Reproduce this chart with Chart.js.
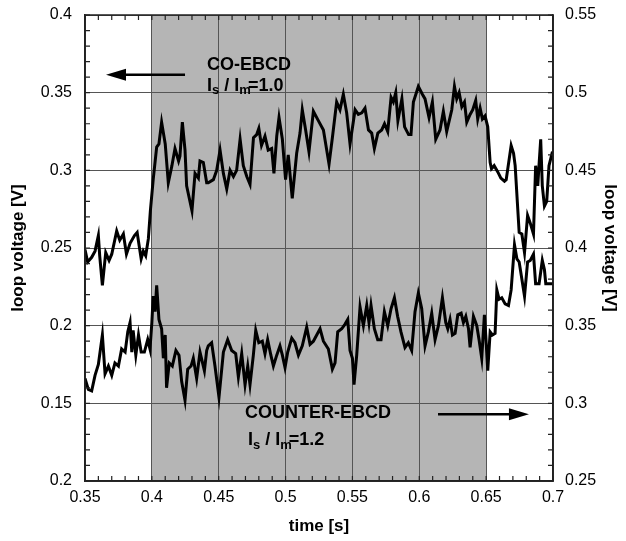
<!DOCTYPE html>
<html>
<head>
<meta charset="utf-8">
<script src="https://cdn.jsdelivr.net/npm/chart.js@4/dist/chart.umd.min.js"></script>
<style>
  html, body { margin: 0; padding: 0; background: #fff; }
  canvas { display: block; }
</style>
</head>
<body>
<canvas id="grafico" width="626" height="541"></canvas>
<script>
// eixo x (tempo) e rótulos
const xTicks = [0.35, 0.4, 0.45, 0.5, 0.55, 0.6, 0.65, 0.7];
const xTickLabels = ['0.35', '0.4', '0.45', '0.5', '0.55', '0.6', '0.65', '0.7'];
// eixo esquerdo (o último rótulo aparece como "0.2" na figura original)
const leftTicks = [0.1, 0.15, 0.2, 0.25, 0.3, 0.35, 0.4];
const leftTickLabels = ['0.2', '0.15', '0.2', '0.25', '0.3', '0.35', '0.4'];
// eixo direito
const rightTicks = [0.25, 0.3, 0.35, 0.4, 0.45, 0.5, 0.55];
const rightTickLabels = ['0.25', '0.3', '0.35', '0.4', '0.45', '0.5', '0.55'];

// faixa cinza (EBCD ligado)
const shadeStart = 0.4;
const shadeEnd = 0.65;

// CO-EBCD, eixo esquerdo
const coTime = [0.350,0.352,0.355,0.3575,0.360,0.361,0.363,0.3655,0.368,0.370,0.3737,0.376,0.3787,0.381,0.3837,0.387,0.389,0.392,0.3936,0.3954,0.3974,0.3989,0.401,0.4036,0.4053,0.4073,0.410,0.4123,0.415,0.4173,0.420,0.421,0.4228,0.4248,0.426,0.430,0.4323,0.4348,0.436,0.4385,0.441,
  0.4422,0.446,0.4485,0.451,0.4535,0.456,0.4585,0.461,0.4634,0.466,0.4684,0.471,0.4734,0.476,0.4784,0.480,0.482,0.4846,0.487,0.4896,0.4913,0.4934,0.4951,0.4976,0.500,0.502,0.505,0.5083,0.5108,0.5125,0.515,0.5175,0.5208,0.5245,0.5283,
  0.5325,0.535,0.5382,0.5407,0.5432,0.5457,0.5482,0.552,0.5544,0.557,0.5594,0.562,0.5644,0.5664,0.569,0.5719,0.574,0.5764,0.5789,0.5806,0.5824,0.584,0.587,0.589,0.592,0.5938,0.5956,0.5993,0.6023,0.6043,0.6073,0.6098,0.6123,0.6155,0.618,0.6205,
  0.6243,0.6263,0.628,0.6298,0.6318,0.6338,0.6355,0.638,0.640,0.6422,0.6437,0.6455,0.6472,0.6492,0.6512,0.653,0.654,0.656,0.6587,0.661,0.6637,0.665,0.6687,0.6705,0.6717,0.6747,0.6767,0.6787,0.681,0.683,0.6854,0.687,0.6886,0.6896,0.6908,0.692,0.6936,0.6953,0.697,0.6996];
const coVoltage = [0.249,0.241,0.244,0.248,0.258,0.245,0.226,0.247,0.242,0.246,0.261,0.255,0.259,0.246,0.253,0.258,0.260,0.243,0.248,0.245,0.256,0.274,0.294,0.315,0.317,0.331,0.317,0.292,0.303,0.314,0.306,0.309,0.331,0.313,0.290,0.274,0.298,0.295,0.306,0.305,0.292,
  0.292,0.294,0.300,0.313,0.298,0.288,0.300,0.296,0.300,0.320,0.303,0.296,0.291,0.321,0.323,0.327,0.316,0.322,0.313,0.314,0.298,0.322,0.334,0.320,0.294,0.310,0.282,0.311,0.324,0.339,0.326,0.312,0.338,0.332,0.326,
  0.304,0.321,0.344,0.339,0.349,0.337,0.317,0.339,0.336,0.337,0.340,0.326,0.324,0.314,0.324,0.326,0.330,0.325,0.347,0.344,0.350,0.332,0.346,0.328,0.323,0.323,0.344,0.354,0.349,0.346,0.334,0.344,0.320,0.326,0.338,0.325,
  0.339,0.354,0.346,0.350,0.341,0.344,0.331,0.336,0.339,0.345,0.333,0.340,0.333,0.335,0.328,0.305,0.301,0.303,0.299,0.295,0.293,0.294,0.316,0.311,0.303,0.260,0.259,0.247,0.271,0.266,0.259,0.303,0.290,0.304,0.320,0.290,0.277,0.280,0.303,0.312];

// COUNTER-EBCD, eixo direito
const counterTime = [0.350,0.3525,0.355,0.3575,0.360,0.363,0.365,0.3675,0.370,0.3724,0.375,0.3774,0.380,0.382,0.3837,0.385,0.386,0.388,0.390,0.392,0.3944,0.3969,0.3986,0.400,0.401,0.4024,0.4036,0.4053,0.4073,0.4086,0.410,0.411,0.413,0.4153,0.418,0.4203,0.4223,0.4248,0.4268,0.4293,0.431,0.4335,0.436,0.4393,0.441,
  0.4422,0.4447,0.4472,0.4502,0.4535,0.4567,0.4597,0.4627,0.4647,0.4672,0.4697,0.4717,0.4734,0.4759,0.4777,0.480,0.4826,0.4846,0.4866,0.489,0.4909,0.4934,0.4958,0.4976,0.4996,0.5016,0.5046,0.507,0.5096,0.5125,0.5158,0.5183,0.5208,0.5233,0.5258,0.5283,
  0.532,0.535,0.537,0.539,0.542,0.5445,0.5465,0.5482,0.550,0.5512,0.5532,0.5557,0.5582,0.5607,0.5624,0.5639,0.5664,0.5689,0.5714,0.5739,0.5764,0.5789,0.5814,0.5838,0.5863,0.5893,0.5918,0.5943,0.5968,0.5993,0.6018,0.6043,0.6068,0.6093,0.6118,0.6143,0.6173,0.6198,
  0.6213,0.623,0.6248,0.6268,0.6288,0.6313,0.633,0.6348,0.6368,0.638,0.6405,0.643,0.6447,0.6467,0.6487,0.6497,0.6512,0.653,0.6547,0.6567,0.658,0.6597,0.6617,0.6642,0.6667,0.6687,0.6712,0.673,0.6747,0.6767,0.6787,0.681,0.683,0.6854,0.687,0.6896,0.692,0.6936,0.6946,0.6978,0.6996];
const counterVoltage = [0.316,0.309,0.308,0.318,0.325,0.344,0.319,0.324,0.318,0.326,0.324,0.335,0.333,0.346,0.352,0.333,0.347,0.331,0.344,0.333,0.333,0.341,0.335,0.352,0.369,0.359,0.376,0.354,0.348,0.329,0.344,0.310,0.326,0.324,0.334,0.331,0.314,0.302,0.322,0.324,0.329,0.316,0.333,0.321,0.334,
  0.337,0.339,0.324,0.304,0.333,0.341,0.334,0.332,0.317,0.332,0.312,0.324,0.312,0.331,0.347,0.339,0.340,0.332,0.341,0.331,0.324,0.331,0.337,0.331,0.323,0.333,0.342,0.339,0.331,0.337,0.349,0.338,0.340,0.344,0.348,0.340,
  0.335,0.322,0.326,0.346,0.348,0.351,0.354,0.334,0.329,0.312,0.331,0.362,0.350,0.363,0.352,0.363,0.348,0.341,0.341,0.359,0.350,0.361,0.368,0.356,0.346,0.336,0.339,0.334,0.359,0.371,0.361,0.337,0.346,0.358,0.341,0.350,0.368,0.352,
  0.348,0.354,0.344,0.345,0.357,0.358,0.352,0.356,0.348,0.336,0.356,0.350,0.341,0.329,0.357,0.344,0.321,0.346,0.344,0.345,0.373,0.367,0.368,0.364,0.363,0.373,0.402,0.393,0.391,0.380,0.369,0.391,0.392,0.396,0.377,0.377,0.392,0.386,0.377,0.377,0.377];

const fonte = "'Liberation Sans', Arial, Helvetica, sans-serif";
Chart.defaults.font.family = fonte;
Chart.defaults.color = '#000';

function rotulo(ticks, labels) {
  return (v) => {
    const i = ticks.findIndex(t => Math.abs(t - v) < 1e-6);
    return i >= 0 ? labels[i] : '';
  };
}

// sem folga extra dos rótulos: a área do gráfico fica fixa
function fixaEixo(largura, altura) {
  return (s) => {
    if (largura) s.width = largura;
    if (altura) s.height = altura;
    s.paddingTop = 0;
    s.paddingBottom = 0;
    s.paddingLeft = 0;
    s.paddingRight = 0;
  };
}

// faixa cinza por baixo da grade
const faixaCinza = {
  id: 'faixaCinza',
  beforeDraw(chart) {
    const { ctx, chartArea, scales } = chart;
    ctx.save();
    ctx.fillStyle = '#fff';
    ctx.fillRect(0, 0, chart.width, chart.height);
    const x0 = scales.x.getPixelForValue(shadeStart);
    const x1 = scales.x.getPixelForValue(shadeEnd);
    ctx.fillStyle = '#b5b5b5';
    ctx.fillRect(x0, chartArea.top, x1 - x0, chartArea.bottom - chartArea.top);
    ctx.restore();
  }
};

// moldura, marcas menores e anotações
function seta(ctx, xa, xb, y) {
  const dir = xb > xa ? 1 : -1;
  ctx.beginPath();
  ctx.moveTo(xa, y);
  ctx.lineTo(xb - dir * 16, y);
  ctx.lineWidth = 2.5;
  ctx.stroke();
  ctx.beginPath();
  ctx.moveTo(xb, y);
  ctx.lineTo(xb - dir * 20, y - 6);
  ctx.lineTo(xb - dir * 20, y + 6);
  ctx.closePath();
  ctx.fill();
}

function razao(ctx, x, y, valor) {
  const grande = 'bold 18px ' + fonte;
  const peq = 'bold 13px ' + fonte;
  const partes = [['I', grande, 0], ['s', peq, 5], [' / I', grande, 0], ['m', peq, 5], ['=' + valor, grande, 0]];
  let cx = x;
  partes.forEach(([t, f, dy]) => {
    ctx.font = f;
    ctx.fillText(t, cx, y + dy);
    cx += ctx.measureText(t).width;
    if (t === 'm') cx -= 3;
  });
}

const extras = {
  id: 'extras',
  afterDatasetsDraw(chart) {
    const { ctx, chartArea: a, scales } = chart;
    const sx = scales.x, sy = scales.y;
    ctx.save();
    ctx.strokeStyle = '#222';
    ctx.fillStyle = '#000';
    ctx.lineWidth = 1.2;
    // marcas menores a cada 0.01
    ctx.beginPath();
    for (let i = 0; i <= 35; i++) {
      const px = sx.getPixelForValue(0.35 + i * 0.01);
      ctx.moveTo(px, a.bottom); ctx.lineTo(px, a.bottom - 5);
      ctx.moveTo(px, a.top); ctx.lineTo(px, a.top + 5);
    }
    for (let i = 0; i <= 30; i++) {
      const py = sy.getPixelForValue(0.1 + i * 0.01);
      ctx.moveTo(a.left, py); ctx.lineTo(a.left + 5, py);
      ctx.moveTo(a.right, py); ctx.lineTo(a.right - 5, py);
    }
    ctx.stroke();
    ctx.lineWidth = 1.5;
    ctx.strokeRect(a.left, a.top, a.right - a.left, a.bottom - a.top);

    // textos
    ctx.textBaseline = 'middle';
    ctx.textAlign = 'left';
    ctx.font = 'bold 18px ' + fonte;
    ctx.fillText('CO-EBCD', sx.getPixelForValue(0.4413), sy.getPixelForValue(0.368));
    razao(ctx, sx.getPixelForValue(0.4413), sy.getPixelForValue(0.3544), '1.0');
    ctx.font = 'bold 18px ' + fonte;
    ctx.fillText('COUNTER-EBCD', sx.getPixelForValue(0.4697), sy.getPixelForValue(0.1437));
    razao(ctx, sx.getPixelForValue(0.4719), sy.getPixelForValue(0.1263), '1.2');

    ctx.strokeStyle = '#000';
    seta(ctx, sx.getPixelForValue(0.4248), sx.getPixelForValue(0.3657), sy.getPixelForValue(0.3615));
    seta(ctx, sx.getPixelForValue(0.614), sx.getPixelForValue(0.682), sy.getPixelForValue(0.143));
    ctx.restore();
  }
};

const serie = (ts, vs) => ts.map((t, i) => ({ x: t, y: vs[i] }));

new Chart(document.getElementById('grafico'), {
  type: 'line',
  data: {
    datasets: [
      {
        label: 'CO-EBCD',
        data: serie(coTime, coVoltage),
        yAxisID: 'y',
        borderColor: '#000',
        borderWidth: 3,
        pointRadius: 0,
        tension: 0,
        fill: false
      },
      {
        label: 'COUNTER-EBCD',
        data: serie(counterTime, counterVoltage),
        yAxisID: 'y2',
        borderColor: '#000',
        borderWidth: 3,
        pointRadius: 0,
        tension: 0,
        fill: false
      }
    ]
  },
  options: {
    responsive: false,
    animation: false,
    layout: { padding: { top: 15, left: 0, right: 0, bottom: 0 } },
    plugins: { legend: { display: false }, tooltip: { enabled: false } },
    scales: {
      x: {
        type: 'linear',
        min: 0.35,
        max: 0.7,
        ticks: { stepSize: 0.05, autoSkip: false, maxRotation: 0, padding: 7, font: { size: 16 }, callback: rotulo(xTicks, xTickLabels) },
        grid: { color: '#555', lineWidth: 1, drawTicks: false },
        border: { color: '#222', width: 1.5 },
        title: { display: true, text: 'time [s]', font: { size: 17, weight: 'bold' }, padding: { top: 0, bottom: 4 } },
        afterFit: fixaEixo(0, 60)
      },
      y: {
        position: 'left',
        min: 0.1,
        max: 0.4,
        ticks: { stepSize: 0.05, autoSkip: false, padding: 13, font: { size: 16 }, callback: rotulo(leftTicks, leftTickLabels) },
        grid: { color: '#555', lineWidth: 1, drawTicks: false },
        border: { color: '#222', width: 1.5 },
        title: { display: true, text: 'loop voltage [V]', font: { size: 17, weight: 'bold' }, padding: { top: 8, bottom: 0 } },
        afterFit: fixaEixo(85, 0)
      },
      y2: {
        position: 'right',
        min: 0.25,
        max: 0.55,
        ticks: { stepSize: 0.05, autoSkip: false, padding: 12, font: { size: 16 }, callback: rotulo(rightTicks, rightTickLabels) },
        grid: { drawOnChartArea: false, drawTicks: false },
        border: { color: '#222', width: 1.5 },
        title: { display: true, text: 'loop voltage [V]', font: { size: 17, weight: 'bold' }, padding: { top: 6, bottom: 0 } },
        afterFit: fixaEixo(73, 0)
      }
    }
  },
  plugins: [faixaCinza, extras]
});
</script>
</body>
</html>
